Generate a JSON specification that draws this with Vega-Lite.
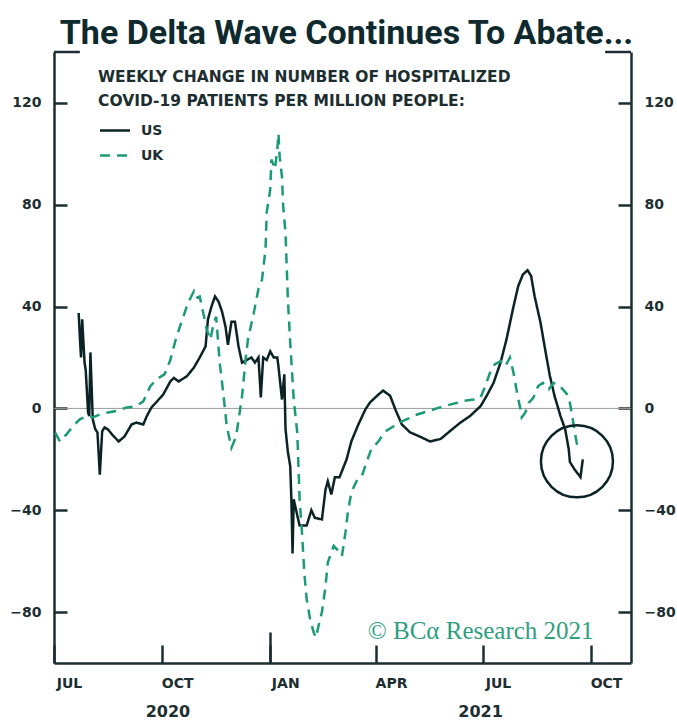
{
"$schema":"https://vega.github.io/schema/vega-lite/v6.json",
"width":577,"height":611,
"autosize":{"type":"none"},
"padding":{"left":54,"top":52,"right":46,"bottom":58},
"background":"white",
"config":{"view":{"stroke":null},"font":"DejaVu Sans"},
"title":{"text":"The Delta Wave Continues To Abate...","font":"Roboto","fontSize":34,"fontWeight":"bold","color":"#0f2a2f","anchor":"middle","offset":10,"baseline":"alphabetic","dx":4,"dy":37},
"datasets":{
"series":[
{"date":"2020-07-22","value":37.5,"series":"US"},
{"date":"2020-07-23","value":28,"series":"US"},
{"date":"2020-07-24","value":20,"series":"US"},
{"date":"2020-07-25","value":35,"series":"US"},
{"date":"2020-07-27","value":18,"series":"US"},
{"date":"2020-07-28","value":15,"series":"US"},
{"date":"2020-07-30","value":-1.6,"series":"US"},
{"date":"2020-07-31","value":-3,"series":"US"},
{"date":"2020-08-01","value":22,"series":"US"},
{"date":"2020-08-03","value":-4.3,"series":"US"},
{"date":"2020-08-05","value":-8,"series":"US"},
{"date":"2020-08-07","value":-9.5,"series":"US"},
{"date":"2020-08-09","value":-26,"series":"US"},
{"date":"2020-08-11","value":-9,"series":"US"},
{"date":"2020-08-13","value":-7.5,"series":"US"},
{"date":"2020-08-16","value":-8.3,"series":"US"},
{"date":"2020-08-19","value":-10,"series":"US"},
{"date":"2020-08-25","value":-13,"series":"US"},
{"date":"2020-08-30","value":-11,"series":"US"},
{"date":"2020-09-05","value":-6.3,"series":"US"},
{"date":"2020-09-09","value":-5.6,"series":"US"},
{"date":"2020-09-15","value":-6.3,"series":"US"},
{"date":"2020-09-18","value":-3,"series":"US"},
{"date":"2020-09-22","value":0.4,"series":"US"},
{"date":"2020-09-26","value":2.4,"series":"US"},
{"date":"2020-10-02","value":5.5,"series":"US"},
{"date":"2020-10-08","value":10.6,"series":"US"},
{"date":"2020-10-11","value":12,"series":"US"},
{"date":"2020-10-15","value":10.6,"series":"US"},
{"date":"2020-10-22","value":12.6,"series":"US"},
{"date":"2020-10-28","value":16,"series":"US"},
{"date":"2020-11-02","value":20,"series":"US"},
{"date":"2020-11-07","value":24.4,"series":"US"},
{"date":"2020-11-09","value":35,"series":"US"},
{"date":"2020-11-12","value":40,"series":"US"},
{"date":"2020-11-15","value":44,"series":"US"},
{"date":"2020-11-18","value":42,"series":"US"},
{"date":"2020-11-21","value":38,"series":"US"},
{"date":"2020-11-24","value":32,"series":"US"},
{"date":"2020-11-26","value":25,"series":"US"},
{"date":"2020-11-29","value":34,"series":"US"},
{"date":"2020-12-02","value":34,"series":"US"},
{"date":"2020-12-05","value":24.4,"series":"US"},
{"date":"2020-12-08","value":18,"series":"US"},
{"date":"2020-12-12","value":19,"series":"US"},
{"date":"2020-12-16","value":20,"series":"US"},
{"date":"2020-12-19","value":18,"series":"US"},
{"date":"2020-12-22","value":20,"series":"US"},
{"date":"2020-12-24","value":4.3,"series":"US"},
{"date":"2020-12-26","value":20,"series":"US"},
{"date":"2020-12-29","value":19,"series":"US"},
{"date":"2021-01-01","value":22.4,"series":"US"},
{"date":"2021-01-04","value":20,"series":"US"},
{"date":"2021-01-07","value":20,"series":"US"},
{"date":"2021-01-08","value":16.5,"series":"US"},
{"date":"2021-01-11","value":3.5,"series":"US"},
{"date":"2021-01-13","value":13.4,"series":"US"},
{"date":"2021-01-14","value":-8,"series":"US"},
{"date":"2021-01-16","value":-17,"series":"US"},
{"date":"2021-01-18","value":-22.6,"series":"US"},
{"date":"2021-01-19","value":-35.7,"series":"US"},
{"date":"2021-01-20","value":-57,"series":"US"},
{"date":"2021-01-21","value":-35.7,"series":"US"},
{"date":"2021-01-24","value":-42,"series":"US"},
{"date":"2021-01-26","value":-46,"series":"US"},
{"date":"2021-02-01","value":-46,"series":"US"},
{"date":"2021-02-05","value":-40,"series":"US"},
{"date":"2021-02-08","value":-43,"series":"US"},
{"date":"2021-02-14","value":-43.6,"series":"US"},
{"date":"2021-02-17","value":-32,"series":"US"},
{"date":"2021-02-19","value":-28.6,"series":"US"},
{"date":"2021-02-22","value":-33.8,"series":"US"},
{"date":"2021-02-25","value":-27,"series":"US"},
{"date":"2021-03-01","value":-27,"series":"US"},
{"date":"2021-03-07","value":-20,"series":"US"},
{"date":"2021-03-11","value":-13,"series":"US"},
{"date":"2021-03-17","value":-6.3,"series":"US"},
{"date":"2021-03-23","value":-0.4,"series":"US"},
{"date":"2021-03-27","value":2.4,"series":"US"},
{"date":"2021-04-02","value":5,"series":"US"},
{"date":"2021-04-07","value":7,"series":"US"},
{"date":"2021-04-13","value":5,"series":"US"},
{"date":"2021-04-18","value":-1,"series":"US"},
{"date":"2021-04-23","value":-6.3,"series":"US"},
{"date":"2021-04-30","value":-9.4,"series":"US"},
{"date":"2021-05-08","value":-11,"series":"US"},
{"date":"2021-05-17","value":-13,"series":"US"},
{"date":"2021-05-26","value":-12,"series":"US"},
{"date":"2021-06-03","value":-8.9,"series":"US"},
{"date":"2021-06-12","value":-5.5,"series":"US"},
{"date":"2021-06-20","value":-3,"series":"US"},
{"date":"2021-06-29","value":0.9,"series":"US"},
{"date":"2021-07-04","value":4.8,"series":"US"},
{"date":"2021-07-10","value":10,"series":"US"},
{"date":"2021-07-16","value":18,"series":"US"},
{"date":"2021-07-21","value":27,"series":"US"},
{"date":"2021-07-27","value":40,"series":"US"},
{"date":"2021-07-31","value":48,"series":"US"},
{"date":"2021-08-04","value":52.6,"series":"US"},
{"date":"2021-08-08","value":54.3,"series":"US"},
{"date":"2021-08-11","value":52,"series":"US"},
{"date":"2021-08-14","value":44,"series":"US"},
{"date":"2021-08-19","value":33.7,"series":"US"},
{"date":"2021-08-23","value":23,"series":"US"},
{"date":"2021-08-27","value":12.7,"series":"US"},
{"date":"2021-08-31","value":4.8,"series":"US"},
{"date":"2021-09-05","value":-3,"series":"US"},
{"date":"2021-09-09","value":-8.2,"series":"US"},
{"date":"2021-09-12","value":-16,"series":"US"},
{"date":"2021-09-13","value":-21,"series":"US"},
{"date":"2021-09-17","value":-24,"series":"US"},
{"date":"2021-09-22","value":-27,"series":"US"},
{"date":"2021-09-24","value":-20,"series":"US"},
{"date":"2020-07-02","value":-9.5,"series":"UK"},
{"date":"2020-07-06","value":-13,"series":"UK"},
{"date":"2020-07-12","value":-10,"series":"UK"},
{"date":"2020-07-17","value":-7,"series":"UK"},
{"date":"2020-07-23","value":-4.3,"series":"UK"},
{"date":"2020-07-29","value":-3,"series":"UK"},
{"date":"2020-08-03","value":-3.5,"series":"UK"},
{"date":"2020-08-09","value":-2.4,"series":"UK"},
{"date":"2020-08-15","value":-1.7,"series":"UK"},
{"date":"2020-08-23","value":-1,"series":"UK"},
{"date":"2020-09-01","value":0.4,"series":"UK"},
{"date":"2020-09-09","value":0.9,"series":"UK"},
{"date":"2020-09-15","value":2.8,"series":"UK"},
{"date":"2020-09-21","value":8.7,"series":"UK"},
{"date":"2020-09-26","value":11.4,"series":"UK"},
{"date":"2020-10-03","value":13.4,"series":"UK"},
{"date":"2020-10-08","value":19,"series":"UK"},
{"date":"2020-10-13","value":27.8,"series":"UK"},
{"date":"2020-10-19","value":36,"series":"UK"},
{"date":"2020-10-23","value":41.4,"series":"UK"},
{"date":"2020-10-28","value":46,"series":"UK"},
{"date":"2020-10-30","value":43.4,"series":"UK"},
{"date":"2020-11-02","value":44,"series":"UK"},
{"date":"2020-11-05","value":37.5,"series":"UK"},
{"date":"2020-11-08","value":31,"series":"UK"},
{"date":"2020-11-11","value":27,"series":"UK"},
{"date":"2020-11-14","value":33.7,"series":"UK"},
{"date":"2020-11-16","value":36,"series":"UK"},
{"date":"2020-11-19","value":18,"series":"UK"},
{"date":"2020-11-22","value":6.2,"series":"UK"},
{"date":"2020-11-25","value":-7,"series":"UK"},
{"date":"2020-11-29","value":-15.5,"series":"UK"},
{"date":"2020-12-03","value":-11,"series":"UK"},
{"date":"2020-12-08","value":4.8,"series":"UK"},
{"date":"2020-12-11","value":19,"series":"UK"},
{"date":"2020-12-13","value":27,"series":"UK"},
{"date":"2020-12-18","value":37.5,"series":"UK"},
{"date":"2020-12-22","value":47,"series":"UK"},
{"date":"2020-12-25","value":50.6,"series":"UK"},
{"date":"2020-12-28","value":62.4,"series":"UK"},
{"date":"2020-12-29","value":77,"series":"UK"},
{"date":"2021-01-01","value":86,"series":"UK"},
{"date":"2021-01-02","value":97.8,"series":"UK"},
{"date":"2021-01-05","value":94,"series":"UK"},
{"date":"2021-01-07","value":101.7,"series":"UK"},
{"date":"2021-01-08","value":108,"series":"UK"},
{"date":"2021-01-09","value":99,"series":"UK"},
{"date":"2021-01-11","value":91,"series":"UK"},
{"date":"2021-01-12","value":79.5,"series":"UK"},
{"date":"2021-01-14","value":69,"series":"UK"},
{"date":"2021-01-15","value":56,"series":"UK"},
{"date":"2021-01-16","value":43,"series":"UK"},
{"date":"2021-01-18","value":26,"series":"UK"},
{"date":"2021-01-21","value":3.5,"series":"UK"},
{"date":"2021-01-24","value":-9.4,"series":"UK"},
{"date":"2021-01-25","value":-22.6,"series":"UK"},
{"date":"2021-01-26","value":-35.7,"series":"UK"},
{"date":"2021-01-28","value":-48.7,"series":"UK"},
{"date":"2021-01-30","value":-64.5,"series":"UK"},
{"date":"2021-02-01","value":-75,"series":"UK"},
{"date":"2021-02-04","value":-83,"series":"UK"},
{"date":"2021-02-07","value":-88,"series":"UK"},
{"date":"2021-02-09","value":-90,"series":"UK"},
{"date":"2021-02-11","value":-85.6,"series":"UK"},
{"date":"2021-02-14","value":-80,"series":"UK"},
{"date":"2021-02-17","value":-70,"series":"UK"},
{"date":"2021-02-19","value":-60.5,"series":"UK"},
{"date":"2021-02-24","value":-54,"series":"UK"},
{"date":"2021-02-28","value":-56,"series":"UK"},
{"date":"2021-03-03","value":-58,"series":"UK"},
{"date":"2021-03-06","value":-48.7,"series":"UK"},
{"date":"2021-03-08","value":-41,"series":"UK"},
{"date":"2021-03-11","value":-33,"series":"UK"},
{"date":"2021-03-16","value":-28,"series":"UK"},
{"date":"2021-03-20","value":-26.6,"series":"UK"},
{"date":"2021-03-24","value":-21,"series":"UK"},
{"date":"2021-03-28","value":-16,"series":"UK"},
{"date":"2021-04-03","value":-13,"series":"UK"},
{"date":"2021-04-09","value":-9,"series":"UK"},
{"date":"2021-04-16","value":-7,"series":"UK"},
{"date":"2021-04-21","value":-5.5,"series":"UK"},
{"date":"2021-04-27","value":-4.3,"series":"UK"},
{"date":"2021-05-06","value":-2.4,"series":"UK"},
{"date":"2021-05-11","value":-1.7,"series":"UK"},
{"date":"2021-05-26","value":0.5,"series":"UK"},
{"date":"2021-06-09","value":2.2,"series":"UK"},
{"date":"2021-06-14","value":2.9,"series":"UK"},
{"date":"2021-06-23","value":3.5,"series":"UK"},
{"date":"2021-06-29","value":4.3,"series":"UK"},
{"date":"2021-07-03","value":8.8,"series":"UK"},
{"date":"2021-07-07","value":14,"series":"UK"},
{"date":"2021-07-11","value":17.3,"series":"UK"},
{"date":"2021-07-16","value":18.6,"series":"UK"},
{"date":"2021-07-20","value":16.6,"series":"UK"},
{"date":"2021-07-24","value":20,"series":"UK"},
{"date":"2021-07-27","value":14,"series":"UK"},
{"date":"2021-07-30","value":6.2,"series":"UK"},
{"date":"2021-08-02","value":-0.4,"series":"UK"},
{"date":"2021-08-03","value":-3.5,"series":"UK"},
{"date":"2021-08-06","value":-1.7,"series":"UK"},
{"date":"2021-08-09","value":2.2,"series":"UK"},
{"date":"2021-08-13","value":4.3,"series":"UK"},
{"date":"2021-08-17","value":8.8,"series":"UK"},
{"date":"2021-08-21","value":10,"series":"UK"},
{"date":"2021-08-26","value":7.5,"series":"UK"},
{"date":"2021-08-30","value":10,"series":"UK"},
{"date":"2021-09-03","value":9.4,"series":"UK"},
{"date":"2021-09-07","value":7.5,"series":"UK"},
{"date":"2021-09-12","value":4.8,"series":"UK"},
{"date":"2021-09-15","value":-3,"series":"UK"},
{"date":"2021-09-17","value":-9,"series":"UK"},
{"date":"2021-09-19","value":-14,"series":"UK"},
{"date":"2021-09-20","value":-16,"series":"UK"}
]},
"layer":[
{"data":{"values":[{"zero":0}]},
 "mark":{"type":"rule","color":"#9c9c9c","strokeWidth":1},
 "encoding":{"y":{"field":"zero","type":"quantitative","scale":{"domain":[-100,140],"nice":false,"zero":false},
  "axis":{"orient":"right","values":[-80,-40,0,40,80,120],"title":null,"grid":false,"domainColor":"#1d2e30","domainWidth":2.5,"tickColor":"#1d2e30","tickWidth":2.5,"tickSize":-13,"labelPadding":26,"labelFont":"DejaVu Sans","labelFontWeight":"bold","labelFontSize":14,"labelColor":"#1d2e30"}}}},
{"data":{"name":"series"},
 "mark":{"type":"line","strokeWidth":2.5},
 "encoding":{
  "x":{"field":"date","type":"temporal","scale":{"type":"utc","domain":[{"year":2020,"month":7,"date":1,"utc":true},{"year":2021,"month":11,"date":4,"utc":true}]},
   "axis":{"orient":"bottom","values":[{"year":2020,"month":7,"date":1,"utc":true},{"year":2020,"month":10,"date":1,"utc":true},{"year":2021,"month":1,"date":1,"utc":true},{"year":2021,"month":4,"date":1,"utc":true},{"year":2021,"month":7,"date":1,"utc":true},{"year":2021,"month":10,"date":1,"utc":true}],
   "title":null,"grid":false,"domainColor":"#1d2e30","domainWidth":2.5,"tickColor":"#1d2e30","tickWidth":2.5,
   "tickSize":-18,"labelPadding":31,
   "labelOffset":15,"labelFlush":false,"labelOverlap":false,
   "labelExpr":"upper(utcFormat(datum.value,'%b'))","labelFont":"DejaVu Sans","labelFontWeight":"bold","labelFontSize":14,"labelColor":"#1d2e30"}},
  "y":{"field":"value","type":"quantitative","scale":{"domain":[-100,140],"nice":false,"zero":false},
   "axis":{"orient":"left","values":[-80,-40,0,40,80,120],"title":null,"grid":false,"domainColor":"#1d2e30","domainWidth":2.5,"tickColor":"#1d2e30","tickWidth":2.5,"tickSize":-13,"labelPadding":26,"labelFont":"DejaVu Sans","labelFontWeight":"bold","labelFontSize":14,"labelColor":"#1d2e30"}},
  "color":{"field":"series","type":"nominal","scale":{"domain":["US","UK"],"range":["#0c2326","#1b9a77"]},
   "legend":{"title":["WEEKLY CHANGE IN NUMBER OF HOSPITALIZED","COVID-19 PATIENTS PER MILLION PEOPLE:"],"orient":"none","legendX":44,"legendY":18,"titleFont":"DejaVu Sans","titleFontSize":15.5,"titleFontWeight":"bold","titleColor":"#1d2e30","titleLineHeight":24,"titlePadding":14,"titleLimit":700,"labelFont":"DejaVu Sans","labelFontSize":14,"labelFontWeight":"bold","labelColor":"#1d2e30","symbolType":"M-1,0H5","symbolSize":100,"symbolStrokeWidth":2.5,"labelOffset":29,"rowPadding":11,"padding":0}},
  "strokeDash":{"field":"series","type":"nominal","scale":{"domain":["US","UK"],"range":[[1,0],[10,7]]},
   "legend":{"title":["WEEKLY CHANGE IN NUMBER OF HOSPITALIZED","COVID-19 PATIENTS PER MILLION PEOPLE:"],"orient":"none","legendX":44,"legendY":18,"titleFont":"DejaVu Sans","titleFontSize":15.5,"titleFontWeight":"bold","titleColor":"#1d2e30","titleLineHeight":24,"titlePadding":14,"titleLimit":700,"labelFont":"DejaVu Sans","labelFontSize":14,"labelFontWeight":"bold","labelColor":"#1d2e30","symbolType":"M-1,0H5","symbolSize":100,"symbolStrokeWidth":2.5,"labelOffset":29,"rowPadding":11,"padding":0}}
 }},
{"data":{"values":[{"date":"2020-07-01","date2":"2020-07-23","y":140},{"date":"2021-10-13","date2":"2021-11-04","y":140}]},
 "mark":{"type":"rule","color":"#1d2e30","strokeWidth":2.5},
 "encoding":{
  "x":{"field":"date","type":"temporal","scale":{"type":"utc","domain":[{"year":2020,"month":7,"date":1,"utc":true},{"year":2021,"month":11,"date":4,"utc":true}]},
   "axis":{"orient":"bottom","values":[{"year":2021,"month":1,"date":1,"utc":true}],"title":null,"grid":false,"domain":false,"labels":false,"tickColor":"#1d2e30","tickWidth":2.5,"tickSize":-31}},
  "x2":{"field":"date2"},
  "y":{"field":"y","type":"quantitative","scale":{"domain":[-100,140],"nice":false,"zero":false},"axis":null}}},
{"data":{"values":[{"date":"2021-09-19","value":-20.8}]},
 "mark":{"type":"point","shape":"circle","size":5184,"filled":false,"stroke":"#0c2326","strokeWidth":2.5,"opacity":1},
 "encoding":{
  "x":{"field":"date","type":"temporal","scale":{"type":"utc","domain":[{"year":2020,"month":7,"date":1,"utc":true},{"year":2021,"month":11,"date":4,"utc":true}]},"axis":null},
  "y":{"field":"value","type":"quantitative","scale":{"domain":[-100,140],"nice":false,"zero":false},"axis":null}}},
{"data":{"values":[{"date":"2021-03-25","value":-87.6,"label":"© BCα Research 2021"}]},
 "mark":{"type":"text","align":"left","baseline":"middle","font":"Liberation Serif","fontSize":25,"color":"#2e9e7f"},
 "encoding":{
  "x":{"field":"date","type":"temporal","scale":{"type":"utc","domain":[{"year":2020,"month":7,"date":1,"utc":true},{"year":2021,"month":11,"date":4,"utc":true}]},"axis":null},
  "y":{"field":"value","type":"quantitative","scale":{"domain":[-100,140],"nice":false,"zero":false},"axis":null},
  "text":{"field":"label"}}},
{"data":{"values":[{"date":"2020-10-06","value":-100,"label":"2020"},{"date":"2021-06-29","value":-100,"label":"2021"}]},
 "mark":{"type":"text","align":"center","baseline":"middle","dy":49,"font":"DejaVu Sans","fontWeight":"bold","fontSize":16,"color":"#1d2e30"},
 "encoding":{
  "x":{"field":"date","type":"temporal","scale":{"type":"utc","domain":[{"year":2020,"month":7,"date":1,"utc":true},{"year":2021,"month":11,"date":4,"utc":true}]},"axis":null},
  "y":{"field":"value","type":"quantitative","scale":{"domain":[-100,140],"nice":false,"zero":false},"axis":null},
  "text":{"field":"label"}}}
],
"resolve":{"axis":{"x":"independent","y":"independent"}}
}
